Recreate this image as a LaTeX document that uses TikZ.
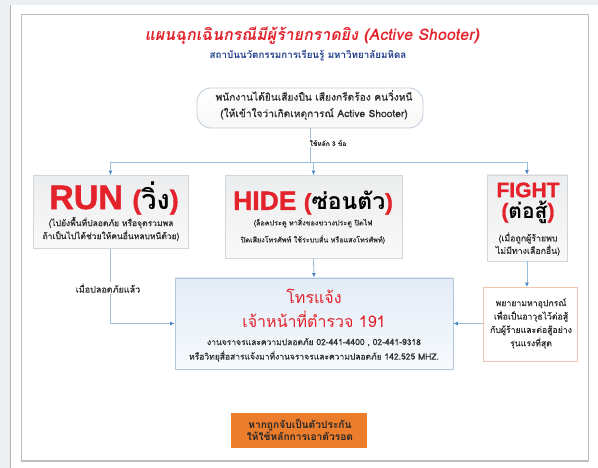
\documentclass[tikz,border=0pt]{standalone}
\usepackage{fontspec}
\setmainfont{Liberation Sans}
\newfontfamily\heavy[FakeBold=1.2]{Liberation Sans}
\newfontfamily\thai[Script=Thai]{Loma}
\newfontfamily\thaim[Script=Thai,FakeBold=0.6]{Loma}
\newfontfamily\thaiti[Script=Thai,FakeSlant=0.18]{Loma}
\usetikzlibrary{arrows.meta,calc}
\definecolor{titlered}{HTML}{E3222B}
\definecolor{navy}{HTML}{1F3C8C}
\definecolor{darktext}{HTML}{2E2E2E}
\definecolor{linec}{HTML}{9CBEDD}
\definecolor{arrowc}{HTML}{4F86C6}
\definecolor{bgstrip}{HTML}{EDF0F3}
\definecolor{framec}{HTML}{BDBDBD}
\definecolor{boxborder}{HTML}{D2D6DA}
\definecolor{boxtop}{HTML}{ECEDEE}
\definecolor{boxbot}{HTML}{F9F9F9}
\definecolor{callborder}{HTML}{AFC6DD}
\definecolor{calltop}{HTML}{E3ECF6}
\definecolor{callbot}{HTML}{F7FAFD}
\definecolor{pinkborder}{HTML}{F3C4AC}
\definecolor{orangefill}{HTML}{EC7D2C}
\definecolor{startborder}{HTML}{BFCCD9}
\begin{document}
\begin{tikzpicture}[x=1pt,y=-1pt,
  conn/.style={draw=linec, line width=0.9pt},
  arr/.style={conn, -{Latex[length=4.5pt,width=4pt,color=arrowc]}},
  choicebox/.style={draw=boxborder, line width=0.7pt, top color=boxtop, bottom color=boxbot, inner sep=0pt},
  headtext/.style={inner sep=0pt, font=\heavy\bfseries},
  smalltext/.style={inner sep=0pt, align=center, text=darktext, font=\thaim\fontsize{6.6}{13}\selectfont},
]
\useasboundingbox (0,0) rectangle (598,468);
\fill[white] (0,0) rectangle (598,468);
\fill[bgstrip] (0,0) rectangle (598,5);
\fill[bgstrip] (0,0) rectangle (10,468);
\draw[gray!60, line width=1pt] (10.5,5) -- (10.5,468);
\draw[framec, line width=1.4pt] (21.5,14.5) rectangle (588.5,461);

% titles
\node[inner sep=0pt, text=titlered, font=\thaiti\bfseries\fontsize{16}{19}\selectfont] (title) at (312,36) {แผนฉุกเฉินกรณีมีผู้ร้ายกราดยิง (Active Shooter)};
\node[inner sep=0pt, text=navy, font=\thai\bfseries\fontsize{9.8}{12}\selectfont] (sub) at (308,56) {สถาบันนวัตกรรมการเรียนรู้ มหาวิทยาลัยมหิดล};

% start
\node[draw=startborder, line width=0.8pt, rounded corners=14pt, top color=white, bottom color=gray!6,
      minimum width=226, minimum height=40, inner sep=0pt] (start) at (310,108) {};
\node[smalltext, font=\thaim\fontsize{10.2}{16.5}\selectfont] (starttxt) at (314,105) {พนักงานได้ยินเสียงปืน เสียงกรีดร้อง คนวิ่งหนี\\(ให้เข้าใจว่าเกิดเหตุการณ์ Active Shooter)};

% three boxes
\node[choicebox, minimum width=155, minimum height=73] (run) at (110.5,212) {};
\node[headtext] (runhead) at (114,198) {\fontsize{34}{34}\selectfont\color{titlered}RUN {\fontsize{27}{27}\selectfont(\textcolor{black}{\thai\bfseries วิ่ง})}};
\node[smalltext, font=\thaim\fontsize{8.5}{13}\selectfont] (runtxt) at (111,229) {(ไปยังพื้นที่ปลอดภัย หรือจุดรวมพล\\ถ้าเป็นไปได้ช่วยให้คนอื่นหลบหนีด้วย)};

\node[choicebox, minimum width=177, minimum height=83] (hide) at (313.5,217) {};
\node[headtext] (hidehead) at (313,203) {\fontsize{26.5}{27}\selectfont\color{titlered}HIDE {\fontsize{23}{24}\selectfont(\textcolor{black}{\thai\bfseries ซ่อนตัว})}};
\node[smalltext, font=\thaim\fontsize{7.2}{17}\selectfont] (hidetxt) at (313,231) {(ล็อคประตู หาสิ่งของขวางประตู ปิดไฟ\\ปิดเสียงโทรศัพท์ ใช้ระบบสั่น หรือแสงโทรศัพท์)};

\node[choicebox, minimum width=80, minimum height=86] (fight) at (527,218) {};
\node[headtext] (fighthead) at (528,190) {\fontsize{21}{21}\selectfont\color{titlered}FIGHT};
\node[headtext] (fightthai) at (528,212) {\fontsize{21}{21}\selectfont\color{titlered}(\textcolor{black}{\thai\bfseries ต่อสู้})};
\node[smalltext, font=\thaim\fontsize{8.8}{12.5}\selectfont] (fighttxt) at (528,244) {(เมื่อถูกผู้ร้ายพบ\\ไม่มีทางเลือกอื่น)};

% call box
\node[draw=callborder, line width=0.8pt, top color=calltop, bottom color=callbot,
      minimum width=278, minimum height=91, inner sep=0pt] (call) at (314,323.5) {};
\node[inner sep=0pt, text=titlered, font=\thai\fontsize{16}{24}\selectfont, align=center] (calltitle) at (314,308) {โทรแจ้ง\\เจ้าหน้าที่ตำรวจ 191};
\node[smalltext, font=\thaim\fontsize{8.5}{14.5}\selectfont] (calltxt) at (314,350) {งานจราจรและความปลอดภัย 02-441-4400 , 02-441-9318\\หรือวิทยุสื่อสารแจ้งมาที่งานจราจรและความปลอดภัย 142.525 MHZ.};

% weapon box
\node[draw=pinkborder, line width=0.8pt, fill=white, minimum width=94, minimum height=74, inner sep=0pt] (weapon) at (530,324.5) {};
\node[smalltext, font=\thaim\fontsize{8.7}{13.4}\selectfont] (weapontxt) at (531,323.5) {พยายามหาอุปกรณ์\\เพื่อเป็นอาวุธไว้ต่อสู้\\กับผู้ร้ายและต่อสู้อย่าง\\รุนแรงที่สุด};

% hostage box
\node[fill=orangefill, minimum width=136, minimum height=35, inner sep=0pt] (hostage) at (299,430.5) {};
\node[smalltext, text=black!85, font=\thai\bfseries\fontsize{10.2}{11}\selectfont] (hostagetxt) at (300,430) {หากถูกจับเป็นตัวประกัน\\ให้ใช้หลักการเอาตัวรอด};

% connectors
\coordinate (jl) at (110.5,162);
\coordinate (jr) at (527,162);
\draw[conn] (start.south) -- (start.south |- jl);
\draw[conn] (jl) -- (jr);
\node[fill=white, inner sep=1.5pt, text=darktext, font=\thaim\fontsize{6.6}{8}\selectfont] (three) at (328,143) {ใช้หลัก 3 ข้อ};
\draw[arr] (jl) -- (run.north);
\draw[arr] (hide.north |- jl) -- (hide.north);
\draw[arr] (jr) -- (fight.north);
\draw[arr] (hide.south) -- (call.north);
\draw[arr] (fight.south) -- (weapon.north -| fight.south);
\draw[arr] (run.south) -- (run.south |- call.west) -- (call.west);
\node[fill=white, inner sep=1.5pt, text=darktext, font=\thaim\fontsize{9}{10}\selectfont] (safe) at (108,288) {เมื่อปลอดภัยแล้ว};
\draw[arr] (weapon.west |- call.east) -- (call.east);
\end{tikzpicture}
\end{document}
